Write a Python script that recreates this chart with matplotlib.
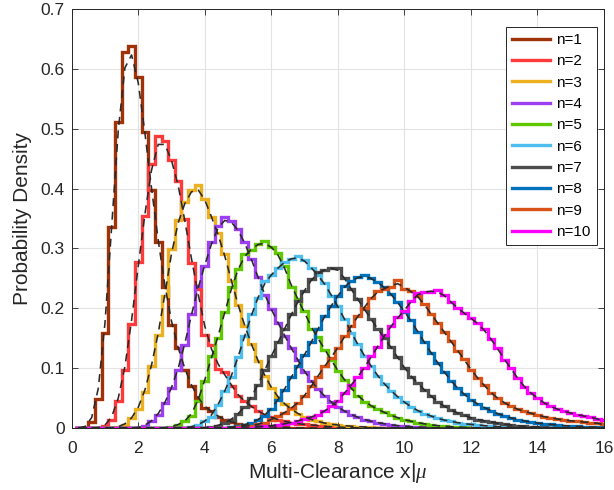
import numpy as np
import matplotlib
matplotlib.use("Agg")
import matplotlib.pyplot as plt

plt.rcParams['font.family'] = ['Liberation Sans', 'DejaVu Sans']
plt.rcParams['mathtext.fontset'] = 'custom'
plt.rcParams['mathtext.it'] = 'Liberation Serif:italic'

# ---- data (histogram densities, bin width 0.2, bin centres start..) ----
bin_width = 0.2
first_edge = 0.1
n_bins = 80

labels = ["n=1", "n=2", "n=3", "n=4", "n=5", "n=6", "n=7", "n=8", "n=9", "n=10"]
colors = ["#A0320A", "#FF3A3A", "#EDB120", "#9B3FF0", "#5FC800",
          "#4DBEEE", "#4D4D4D", "#0072BD", "#D95319", "#FF00FF"]

starts = [0.6, 1.0, 1.4, 2.2, 3.0, 3.6, 4.2, 4.8, 5.0, 5.6]

n1 = [0.010, 0.049, 0.158, 0.336, 0.512, 0.628, 0.639, 0.587, 0.494, 0.398,
      0.311, 0.236, 0.172, 0.134, 0.097, 0.070, 0.050, 0.034, 0.028, 0.019,
      0.014, 0.010, 0.007, 0.005, 0.004, 0.003, 0.002, 0.002, 0.001, 0.001]
n2 = [0.003, 0.013, 0.045, 0.097, 0.173, 0.277, 0.355, 0.441, 0.487, 0.480,
      0.448, 0.412, 0.349, 0.275, 0.233, 0.155, 0.138, 0.098, 0.094, 0.070,
      0.054, 0.045, 0.036, 0.028, 0.022, 0.018, 0.014, 0.011, 0.009, 0.007,
      0.006, 0.005, 0.004, 0.003, 0.002, 0.002, 0.001]
n3 = [0.002, 0.005, 0.016, 0.031, 0.060, 0.103, 0.155, 0.220, 0.299, 0.347,
      0.378, 0.397, 0.406, 0.383, 0.352, 0.325, 0.290, 0.245, 0.205, 0.170,
      0.140, 0.112, 0.087, 0.067, 0.051, 0.040, 0.031, 0.024, 0.018, 0.014,
      0.011, 0.008, 0.006, 0.005, 0.004, 0.003, 0.002, 0.002, 0.001]
n4 = [0.004, 0.011, 0.022, 0.041, 0.066, 0.097, 0.139, 0.190, 0.237, 0.271,
      0.310, 0.338, 0.352, 0.345, 0.333, 0.310, 0.283, 0.252, 0.222, 0.198,
      0.176, 0.154, 0.134, 0.113, 0.094, 0.078, 0.065, 0.053, 0.043, 0.035,
      0.028, 0.022, 0.018, 0.014, 0.011, 0.009, 0.007, 0.005, 0.004, 0.003,
      0.002, 0.002, 0.001]
n5 = [0.002, 0.005, 0.011, 0.020, 0.045, 0.078, 0.120, 0.151, 0.193, 0.235,
      0.266, 0.291, 0.298, 0.308, 0.312, 0.302, 0.292, 0.270, 0.235, 0.215,
      0.195, 0.165, 0.152, 0.131, 0.114, 0.095, 0.081, 0.066, 0.054, 0.044,
      0.037, 0.031, 0.026, 0.021, 0.017, 0.014, 0.011, 0.009, 0.007, 0.005,
      0.004, 0.003, 0.002, 0.002, 0.001]
n6 = [0.002, 0.005, 0.011, 0.019, 0.038, 0.062, 0.085, 0.118, 0.153, 0.190,
      0.218, 0.245, 0.255, 0.268, 0.278, 0.283, 0.287, 0.280, 0.268, 0.255,
      0.243, 0.221, 0.204, 0.182, 0.159, 0.140, 0.120, 0.103, 0.087, 0.073,
      0.062, 0.052, 0.043, 0.035, 0.029, 0.024, 0.020, 0.016, 0.013, 0.011,
      0.009, 0.007, 0.006, 0.005, 0.004, 0.003, 0.002, 0.002, 0.001]
n7 = [0.002, 0.004, 0.008, 0.014, 0.023, 0.035, 0.050, 0.072, 0.097, 0.120,
      0.143, 0.165, 0.190, 0.212, 0.229, 0.249, 0.260, 0.264, 0.268, 0.268,
      0.250, 0.232, 0.215, 0.198, 0.182, 0.165, 0.150, 0.135, 0.118, 0.100,
      0.086, 0.075, 0.064, 0.053, 0.044, 0.036, 0.030, 0.025, 0.021, 0.017,
      0.014, 0.012, 0.010, 0.008, 0.006, 0.005, 0.004, 0.003, 0.002, 0.002,
      0.001]
n8 = [0.002, 0.003, 0.005, 0.009, 0.014, 0.020, 0.032, 0.047, 0.064, 0.086,
      0.103, 0.122, 0.143, 0.165, 0.187, 0.204, 0.221, 0.237, 0.246, 0.252,
      0.255, 0.250, 0.244, 0.235, 0.224, 0.210, 0.194, 0.180, 0.161, 0.143,
      0.126, 0.109, 0.093, 0.079, 0.066, 0.056, 0.047, 0.040, 0.034, 0.029,
      0.024, 0.020, 0.017, 0.014, 0.012, 0.010, 0.008, 0.007, 0.006, 0.005,
      0.004, 0.003, 0.003, 0.002, 0.002, 0.001, 0.001]
n9 = [0.002, 0.003, 0.004, 0.006, 0.009, 0.014, 0.020, 0.025, 0.033, 0.042,
      0.053, 0.070, 0.086, 0.104, 0.117, 0.134, 0.153, 0.170, 0.187, 0.201,
      0.218, 0.229, 0.233, 0.236, 0.248, 0.232, 0.229, 0.221, 0.207, 0.190,
      0.176, 0.160, 0.145, 0.129, 0.115, 0.097, 0.083, 0.072, 0.058, 0.050,
      0.042, 0.036, 0.031, 0.028, 0.025, 0.021, 0.019, 0.017, 0.015, 0.013,
      0.012, 0.011, 0.010, 0.009, 0.008, 0.007]
n10 = [0.002, 0.003, 0.004, 0.005, 0.007, 0.009, 0.012, 0.015, 0.018, 0.022,
       0.028, 0.036, 0.045, 0.058, 0.072, 0.085, 0.100, 0.120, 0.135, 0.155,
       0.170, 0.185, 0.195, 0.212, 0.225, 0.228, 0.228, 0.230, 0.222, 0.210,
       0.200, 0.192, 0.183, 0.175, 0.165, 0.148, 0.134, 0.114, 0.100, 0.083,
       0.069, 0.058, 0.050, 0.041, 0.036, 0.031, 0.028, 0.025, 0.022, 0.020,
       0.018, 0.015, 0.013]

series = [n1, n2, n3, n4, n5, n6, n7, n8, n9, n10]

xticks = [0, 2, 4, 6, 8, 10, 12, 14, 16]
yticks = [0, 0.1, 0.2, 0.3, 0.4, 0.5, 0.6, 0.7]
ytick_labels = ["0", "0.1", "0.2", "0.3", "0.4", "0.5", "0.6", "0.7"]

# ---- build ----
edges = first_edge + bin_width * np.arange(n_bins + 1)
centers = 0.5 * (edges[:-1] + edges[1:])

fig = plt.figure(figsize=(6.14, 4.90), dpi=100)
ax = fig.add_axes([71.7 / 614, 1 - 428 / 490, 532.3 / 614, 419 / 490])

full_list = []
for s, vals, c, lab in zip(starts, series, colors, labels):
    full = np.zeros(n_bins)
    i0 = int(round((s - centers[0]) / bin_width))
    full[i0:i0 + len(vals)] = vals
    full_list.append(full)
    ax.stairs(full, edges, color=c, lw=2.4, label=lab, baseline=0, zorder=3)

kernel = np.array([1, 2, 1]) / 4.0
for full in full_list:
    sm = np.convolve(np.concatenate([[0], full, [0]]), kernel, mode='valid')
    ax.plot(centers, sm, color='#2a2a2a', lw=1.15, ls=(0, (5.0, 3.5)),
            zorder=4)

ax.set_xlim(0, 16)
ax.set_ylim(0, 0.7)
ax.set_xticks(xticks)
ax.set_yticks(yticks)
ax.set_xticklabels([str(t) for t in xticks])
ax.set_yticklabels(ytick_labels)
ax.grid(True, color='#E3E3E3', lw=0.8, zorder=0)
ax.set_axisbelow(True)
ax.tick_params(direction='in', length=4, width=0.6, top=True, right=True,
               labelsize=12.5, colors='#262626')
ax.tick_params(axis='x', pad=9)
ax.tick_params(axis='y', pad=5)
for sp in ax.spines.values():
    sp.set_color('#262626')
    sp.set_linewidth(0.7)

ax.set_xlabel(r'Multi-Clearance x|$\mu$', fontsize=15, color='#262626', labelpad=4)
ax.set_ylabel('Probability Density', fontsize=15, color='#262626', labelpad=6)

leg = ax.legend(loc='upper right', bbox_to_anchor=(0.986, 0.957), fontsize=11,
                handlelength=2.5, handletextpad=0.4, labelspacing=0.48,
                borderpad=0.4, fancybox=False, framealpha=1, edgecolor='#262626',
                borderaxespad=0)
leg.get_frame().set_linewidth(0.7)

fig.savefig('out.png', dpi=100)
